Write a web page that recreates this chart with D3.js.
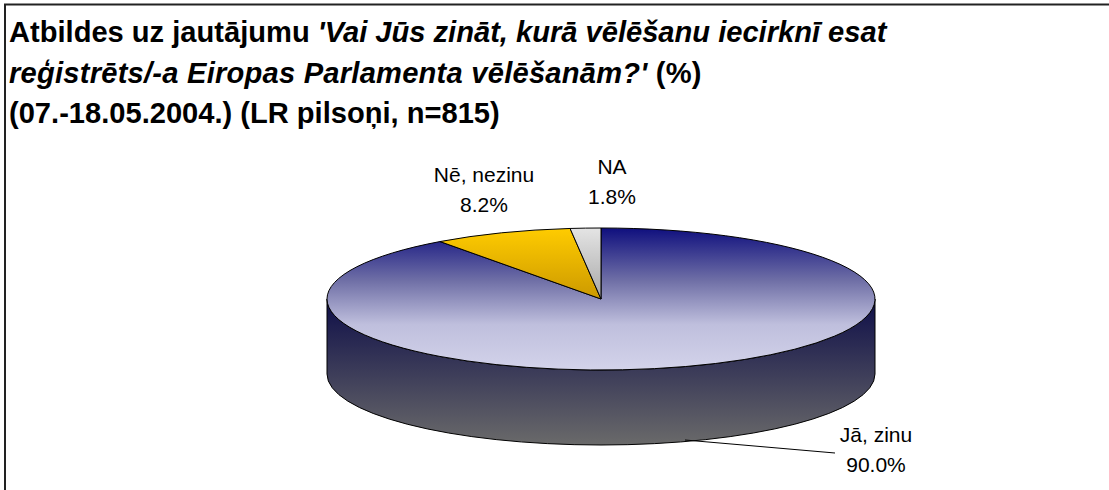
<!DOCTYPE html>
<html><head><meta charset="utf-8">
<script src="https://cdn.jsdelivr.net/npm/d3@7/dist/d3.min.js"></script>
<style>html,body{margin:0;background:#fff}svg{display:block}text{font-family:"Liberation Sans",Arial,sans-serif}</style>
</head><body><svg id="c" width="1109" height="490"></svg>
<script>
const categories = ["Jā, zinu", "Nē, nezinu", "NA"];
const values = [90.0, 8.2, 1.8];
const labels = ["90.0%", "8.2%", "1.8%"];
const titleLines = [
  [["Atbildes uz jautājumu ", false], ["'Vai Jūs zināt, kurā vēlēšanu iecirknī esat", true]],
  [["reģistrēts/-a Eiropas Parlamenta vēlēšanām?'", true], [" (%)", false]],
  [["(07.-18.05.2004.) (LR pilsoņi, n=815)", false]]
];
const topStops = [
  [[0, "#0f0f7e"], [0.37, "#6f6fa6"], [0.68, "#bfbfdd"], [1, "#d3d3ea"]],
  [[0, "#ffcc00"], [1, "#cc9900"]],
  [[0, "#e4e4e4"], [1, "#a8a8a8"]]
];

const svg = d3.select("#c");
const cx = 601, cy = 299, rx = 274, ry = 71, depth = 75;
const defs = svg.append("defs");
function grad(id, y1, y2, stops) {
  const g = defs.append("linearGradient").attr("id", id).attr("gradientUnits", "userSpaceOnUse")
    .attr("x1", 0).attr("x2", 0).attr("y1", y1).attr("y2", y2);
  stops.forEach(([o, c]) => g.append("stop").attr("offset", o).attr("stop-color", c));
}
grad("side", cy, cy + ry + depth, [[0, "#0e0e48"], [1, "#6a6a6a"]]);
[[0, rx], [1, 0], [2, 0]].forEach(([i, end]) => grad("gt" + i, -rx, end, topStops[i]));

// frame
svg.append("path").attr("d", "M5,490V4.5H1109").attr("fill", "none").attr("stroke", "#222").attr("stroke-width", 2);

// title
const title = svg.append("text").attr("font-size", 29.1).attr("font-weight", "bold").attr("fill", "#000");
const titleY = [42, 83, 123];
const titleSpacing = [0, 0.24, 0];
titleLines.forEach((line, i) => {
  const t = title.append("tspan").attr("x", 9).attr("y", titleY[i]).attr("letter-spacing", titleSpacing[i]);
  line.forEach(([s, it]) => t.append("tspan").attr("font-style", it ? "italic" : "normal").text(s));
});

// side wall: front half of the ellipse extruded
svg.append("path")
  .attr("d", `M${cx - rx},${cy}A${rx},${ry} 0 0 0 ${cx + rx},${cy}V${cy + depth}A${rx},${ry} 0 0 1 ${cx - rx},${cy + depth}Z`)
  .attr("fill", "url(#side)").attr("stroke", "#000").attr("stroke-width", 1);

// top slices: d3.pie angles, circular arc flattened to the ellipse
const pie = d3.pie().sort(null).value(d => d);
const arc = d3.arc().innerRadius(0).outerRadius(rx);
svg.append("g").attr("transform", `translate(${cx},${cy}) scale(1,${ry / rx})`)
  .selectAll("path").data(pie(values)).join("path")
  .attr("d", arc)
  .attr("fill", (d, i) => `url(#gt${i})`)
  .attr("stroke", "#000").attr("stroke-width", 1)
  .attr("vector-effect", "non-scaling-stroke");

// leader line
svg.append("path").attr("d", "M685,440L835,453").attr("fill", "none").attr("stroke", "#000").attr("stroke-width", 1);

// data labels
const labelPos = [[876, 442, 472], [484, 182, 212], [612, 174, 204]];
categories.forEach((c, i) => {
  const [x, y1, y2] = labelPos[i];
  const g = svg.append("g").attr("font-size", 21).attr("fill", "#000").attr("text-anchor", "middle");
  g.append("text").attr("x", x).attr("y", y1).text(c);
  g.append("text").attr("x", x).attr("y", y2).text(labels[i]);
});
</script></body></html>
